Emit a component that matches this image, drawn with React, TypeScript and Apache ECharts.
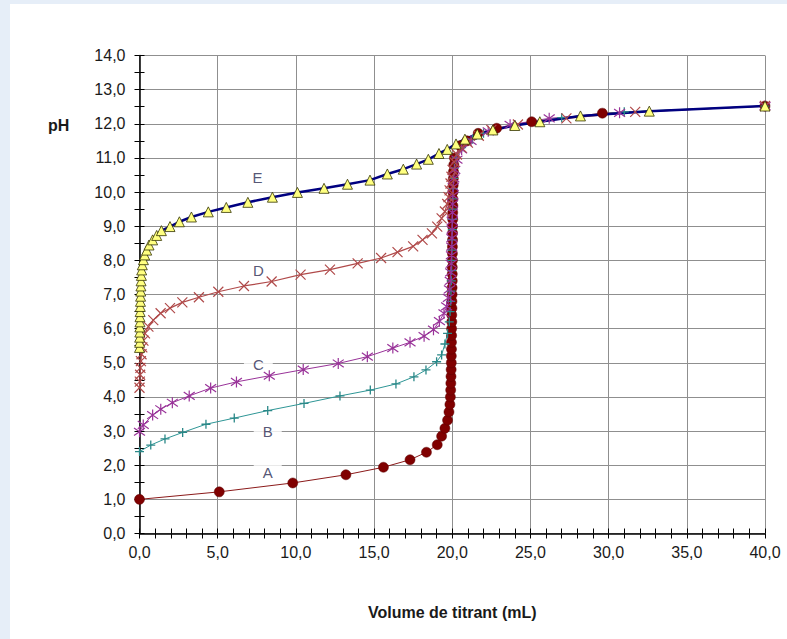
import React, { useEffect, useRef } from "react";
import * as echarts from "echarts";

// ---- data (volume in mL, pH) ----
const curveA: [number, number][] = [
  [0, 1.0], [5.1, 1.22], [9.8, 1.48], [13.2, 1.72], [15.6, 1.94], [17.3, 2.16], [18.35, 2.38],
  [19.04, 2.6], [19.32, 2.85], [19.53, 3.08], [19.7, 3.32], [19.79, 3.56], [19.85, 3.78],
  [19.88, 4.0], [19.9, 4.2], [19.91, 4.4], [19.92, 4.6], [19.93, 4.8], [19.94, 5.0], [19.94, 5.2],
  [19.95, 5.4], [19.95, 5.6], [19.96, 5.8], [19.96, 6.0], [19.97, 6.2], [19.97, 6.4], [19.98, 6.6],
  [19.98, 6.8], [19.99, 7.0], [19.99, 7.2], [20.0, 7.4], [20.0, 7.6], [20.0, 7.8], [20.01, 8.0],
  [20.01, 8.2], [20.01, 8.4], [20.02, 8.6], [20.02, 8.8], [20.02, 9.0], [20.03, 9.2], [20.03, 9.4],
  [20.04, 9.6], [20.04, 9.8], [20.05, 10.0], [20.06, 10.2], [20.07, 10.4], [20.08, 10.6],
  [20.1, 10.8], [20.14, 11.0], [20.5, 11.36], [20.94, 11.5], [21.66, 11.72], [22.84, 11.87],
  [25.08, 12.06], [29.6, 12.31], [40, 12.52],
];
const curveB: [number, number][] = [
  [0, 2.4], [0.72, 2.59], [1.63, 2.77], [2.76, 2.96], [4.25, 3.2], [6.06, 3.38], [8.2, 3.6],
  [10.52, 3.81], [12.82, 4.03], [14.76, 4.2], [16.4, 4.38], [17.55, 4.59], [18.32, 4.79],
  [19.0, 5.03], [19.32, 5.23], [19.53, 5.55], [19.7, 5.86], [19.81, 6.2], [19.86, 6.5],
  [19.9, 6.8], [19.92, 7.1], [19.94, 7.4], [19.96, 7.7], [19.97, 8.0], [19.98, 8.3], [19.99, 8.6],
  [20.0, 8.9], [20.01, 9.2], [20.02, 9.5], [20.03, 9.8], [20.05, 10.1], [20.08, 10.4],
  [20.14, 10.7], [20.25, 11.0], [20.6, 11.3], [21.3, 11.55], [22.0, 11.72], [24.0, 11.97],
  [27.0, 12.18], [31.0, 12.35], [40, 12.52],
];
const curveC: [number, number][] = [
  [0, 2.98], [0.24, 3.18], [0.84, 3.47], [1.36, 3.64], [2.1, 3.83], [3.18, 4.03], [4.55, 4.26],
  [6.2, 4.44], [8.3, 4.62], [10.47, 4.8], [12.71, 4.98], [14.57, 5.18], [16.2, 5.43], [17.3, 5.6],
  [18.2, 5.78], [18.8, 5.97], [19.18, 6.22], [19.47, 6.45], [19.64, 6.65], [19.75, 6.9],
  [19.82, 7.15], [19.87, 7.4], [19.9, 7.65], [19.93, 7.9], [19.95, 8.15], [19.97, 8.4],
  [19.98, 8.65], [19.99, 8.9], [20.0, 9.15], [20.01, 9.4], [20.02, 9.65], [20.04, 9.9],
  [20.06, 10.15], [20.1, 10.4], [20.16, 10.65], [20.3, 10.95], [20.6, 11.25], [21.2, 11.5],
  [22.3, 11.78], [23.7, 11.97], [26.2, 12.16], [30.7, 12.32], [40, 12.52],
];
const curveD: [number, number][] = [
  [0, 4.27], [0.02, 4.45], [0.04, 4.65], [0.06, 4.85], [0.09, 5.05], [0.13, 5.25], [0.18, 5.45],
  [0.25, 5.65], [0.35, 5.86], [0.57, 6.06], [0.88, 6.25], [1.35, 6.45], [1.95, 6.6], [2.74, 6.77],
  [3.8, 6.92], [5.04, 7.08], [6.68, 7.25], [8.45, 7.38], [10.3, 7.58], [12.18, 7.73],
  [13.95, 7.91], [15.45, 8.07], [16.5, 8.24], [17.5, 8.41], [18.1, 8.6], [18.7, 8.79],
  [19.04, 8.99], [19.32, 9.23], [19.53, 9.43], [19.68, 9.65], [19.76, 9.85], [19.83, 10.05],
  [19.89, 10.25], [19.95, 10.45], [20.02, 10.65], [20.12, 10.88], [20.3, 11.1], [20.6, 11.3],
  [21.0, 11.45], [21.7, 11.65], [22.5, 11.82], [24.2, 11.98], [27.3, 12.16], [31.7, 12.35],
  [40, 12.52],
];
const curveE: [number, number][] = [
  [0, 5.45], [0.01, 5.6], [0.01, 5.75], [0.02, 5.9], [0.02, 6.05], [0.03, 6.2], [0.03, 6.35],
  [0.04, 6.5], [0.05, 6.65], [0.06, 6.8], [0.07, 6.95], [0.08, 7.1], [0.09, 7.25], [0.1, 7.4],
  [0.12, 7.56], [0.14, 7.72], [0.18, 7.87], [0.25, 8.02], [0.33, 8.16], [0.46, 8.3], [0.61, 8.45],
  [0.84, 8.6], [1.1, 8.73], [1.4, 8.87], [1.95, 8.99], [2.55, 9.13], [3.32, 9.27], [4.4, 9.42],
  [5.55, 9.55], [6.93, 9.7], [8.5, 9.85], [10.1, 9.99], [11.8, 10.11], [13.3, 10.23],
  [14.74, 10.35], [15.85, 10.53], [16.87, 10.67], [17.72, 10.82], [18.47, 10.96], [19.15, 11.13],
  [19.68, 11.25], [20.24, 11.41], [20.81, 11.55], [21.6, 11.7], [22.6, 11.82], [24.0, 11.95],
  [25.6, 12.06], [28.2, 12.23], [32.6, 12.37], [40, 12.52],
];

const curveNames = ["A", "B", "C", "D", "E"];
const labelPositions: [number, number][] = [
  [8.2, 1.8], [8.2, 2.98], [7.6, 4.94], [7.6, 7.69], [7.55, 10.43],
];

const FONT = "'Liberation Sans', Arial, Helvetica, sans-serif";
const fmt = (v: number) => v.toFixed(1).replace(".", ",");

const PLUS = "path://M5,0L5,10M0,5L10,5";
const CROSS = "path://M0,0L10,10M10,0L0,10";
const STAR = "path://M5,0L5,10M0.6,1.5L9.4,8.5M9.4,1.5L0.6,8.5";

export default function App() {
  const ref = useRef<HTMLDivElement>(null);
  useEffect(() => {
    if (!ref.current) return;
    const chart = echarts.init(ref.current, null, { renderer: "svg" });
    const axisCommon = {
      type: "value" as const,
      axisLine: { show: true, lineStyle: { color: "#000", width: 1.5 } },
      axisTick: { show: true, length: 5, lineStyle: { color: "#000", width: 1 } },
      minorTick: { show: true, length: 5, lineStyle: { color: "#000", width: 1 } },
    };
    const xBase = { ...axisCommon, min: 0, max: 40, interval: 5, position: "bottom" as const, gridIndex: 0 };
    const yBase = { ...axisCommon, min: 0, max: 14, interval: 1, position: "left" as const, gridIndex: 0 };

    const lineSeries = (
      name: string, data: [number, number][], color: string, symbol: string,
      size: number, item: any, width = 1
    ) => ({
      name, type: "line", data, xAxisIndex: 0, yAxisIndex: 0, symbol, symbolSize: size,
      showSymbol: true, showAllSymbol: true, silent: true,
      lineStyle: { color, width }, itemStyle: item, emphasis: { disabled: true },
    });

    chart.setOption({
      animation: false,
      backgroundColor: "transparent",
      textStyle: { fontFamily: FONT },
      grid: { left: 139.5, right: 22, top: 55.5, bottom: 105.5, containLabel: false },
      xAxis: [
        {
          ...xBase,
          minorTick: { ...axisCommon.minorTick, splitNumber: 5 },
          axisLabel: { formatter: fmt, fontSize: 16, color: "#1a1a1a", margin: 11, fontFamily: FONT },
          splitLine: { show: true, lineStyle: { color: "#8f8f8f", width: 1 } },
          name: "Volume de titrant (mL)",
          nameLocation: "middle",
          nameGap: 71,
          nameTextStyle: { fontSize: 16, fontWeight: "bold", color: "#1a1a1a", fontFamily: FONT },
        },
        {
          ...xBase,
          axisLine: { show: false },
          axisTick: { ...axisCommon.axisTick, inside: true },
          minorTick: { ...axisCommon.minorTick, splitNumber: 5 },
          axisLabel: { show: false },
          splitLine: { show: false },
        },
      ],
      yAxis: [
        {
          ...yBase,
          minorTick: { ...axisCommon.minorTick, splitNumber: 2 },
          axisLabel: { formatter: fmt, fontSize: 16, color: "#1a1a1a", margin: 14, fontFamily: FONT },
          splitLine: { show: true, lineStyle: { color: "#8f8f8f", width: 1 } },
        },
        {
          ...yBase,
          axisLine: { show: false },
          axisTick: { ...axisCommon.axisTick, inside: true },
          minorTick: { ...axisCommon.minorTick, splitNumber: 2 },
          axisLabel: { show: false },
          splitLine: { show: false },
        },
      ],
      graphic: [
        {
          type: "text", left: 48, top: 117, silent: true,
          style: { text: "pH", font: `bold 16px ${FONT}`, fill: "#1a1a1a" },
        },
      ],
      series: [
        {
          type: "scatter", xAxisIndex: 0, yAxisIndex: 0, silent: true, symbolSize: 1,
          itemStyle: { color: "rgba(0,0,0,0)" }, z: 1,
          data: curveNames.map((n, i) => ({ name: n, value: labelPositions[i] })),
          label: {
            show: true, position: "inside", formatter: "{b}", fontSize: 15, color: "#2a2a50",
            backgroundColor: "#fff", padding: [1, 9, 1, 9], fontFamily: FONT,
          },
        },
        lineSeries("A", curveA, "#8b1a1a", "circle", 10,
          { color: "#800000", borderColor: "#5a0000", borderWidth: 0.5 }),
        lineSeries("B", curveB, "#2e9696", PLUS, 9,
          { color: "#2e9696", borderColor: "#2a8888", borderWidth: 1.3 }),
        lineSeries("C", curveC, "#993399", STAR, 11,
          { color: "#993399", borderColor: "#993399", borderWidth: 1.2 }),
        lineSeries("D", curveD, "#b04a4a", CROSS, 10,
          { color: "#b04a4a", borderColor: "#b04a4a", borderWidth: 1.2 }, 1.2),
        lineSeries("E", curveE, "#000080", "triangle", 10,
          { color: "#ffff80", borderColor: "#333300", borderWidth: 0.8 }, 2.5),
      ],
    });
    return () => chart.dispose();
  }, []);

  return (
    <div style={{ position: "fixed", left: 0, top: 0, width: 787, height: 639, background: "#e6eef8" }}>
      <div style={{ position: "absolute", left: 10, top: 4, width: 777, height: 635, background: "#fff" }} />
      <div ref={ref} style={{ position: "absolute", left: 0, top: 0, width: 787, height: 639 }} />
    </div>
  );
}
